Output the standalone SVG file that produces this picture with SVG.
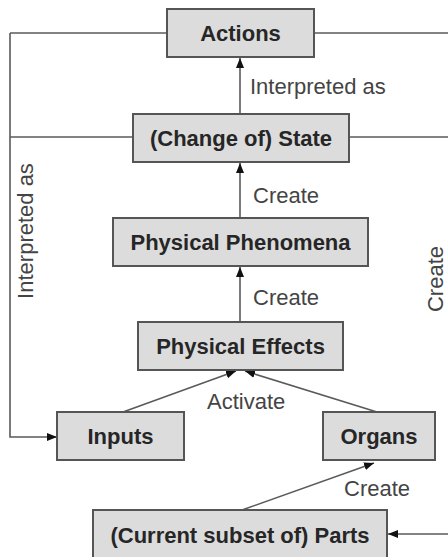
<svg xmlns="http://www.w3.org/2000/svg" width="448" height="557" viewBox="0 0 448 557">
<style>
.box{fill:#dcdcdc;stroke:#555;stroke-width:2}
.nt{font-family:"Liberation Sans",Arial,sans-serif;font-weight:bold;font-size:22px;fill:#262626;text-anchor:middle}
.lt{font-family:"Liberation Sans",Arial,sans-serif;font-size:22px;fill:#444}
.ln{fill:none;stroke:#5a5a5a;stroke-width:1.6}
</style>
<defs>
<marker id="ahb" viewBox="0 0 10 10" refX="10" refY="5" markerWidth="10" markerHeight="10" orient="auto" markerUnits="userSpaceOnUse">
<path d="M0,1 L10,5 L0,9 z" fill="#111"/>
</marker>
</defs>
<g id="connectors">
<line class="ln" x1="10" y1="33" x2="167" y2="33"/>
<line class="ln" x1="314" y1="33" x2="448" y2="33"/>
<line class="ln" x1="10" y1="137" x2="133" y2="137"/>
<line class="ln" x1="349" y1="137" x2="448" y2="137"/>
<polyline class="ln" points="10,33 10,437 57,437" marker-end="url(#ahb)"/>
<line class="ln" x1="240" y1="114" x2="240" y2="58" marker-end="url(#ahb)"/>
<line class="ln" x1="240" y1="218" x2="240" y2="163" marker-end="url(#ahb)"/>
<line class="ln" x1="240" y1="322" x2="240" y2="267" marker-end="url(#ahb)"/>
<line class="ln" x1="123" y1="412" x2="236" y2="371" marker-end="url(#ahb)"/>
<line class="ln" x1="377" y1="412" x2="245" y2="371" marker-end="url(#ahb)"/>
<line class="ln" x1="242" y1="510" x2="374" y2="463" marker-end="url(#ahb)"/>
<line class="ln" x1="448" y1="534" x2="388" y2="534" marker-end="url(#ahb)"/>
<text class="lt" x="250" y="94">Interpreted as</text>
<text class="lt" x="253" y="203">Create</text>
<text class="lt" x="253" y="305">Create</text>
<text class="lt" x="207" y="409">Activate</text>
<text class="lt" x="344" y="496">Create</text>
<text class="lt" text-anchor="middle" transform="translate(33,231) rotate(-90)">Interpreted as</text>
<text class="lt" text-anchor="middle" transform="translate(443,279) rotate(-90)">Create</text>
</g>
<g id="actions">
<rect class="box" x="167" y="9" width="147" height="48"/>
<text class="nt" x="240.5" y="41">Actions</text>
</g>
<g id="state">
<rect class="box" x="133" y="114" width="216" height="48"/>
<text class="nt" x="241" y="146">(Change of) State</text>
</g>
<g id="phenomena">
<rect class="box" x="113" y="218" width="255" height="48"/>
<text class="nt" x="240.5" y="250">Physical Phenomena</text>
</g>
<g id="effects">
<rect class="box" x="138" y="322" width="205" height="48"/>
<text class="nt" x="240.5" y="354">Physical Effects</text>
</g>
<g id="inputs">
<rect class="box" x="57" y="412" width="127" height="48"/>
<text class="nt" x="120.5" y="444">Inputs</text>
</g>
<g id="organs">
<rect class="box" x="323" y="412" width="112" height="48"/>
<text class="nt" x="379" y="444">Organs</text>
</g>
<g id="parts">
<rect class="box" x="93" y="510" width="294" height="50"/>
<text class="nt" x="240" y="543">(Current subset of) Parts</text>
</g>
</svg>
